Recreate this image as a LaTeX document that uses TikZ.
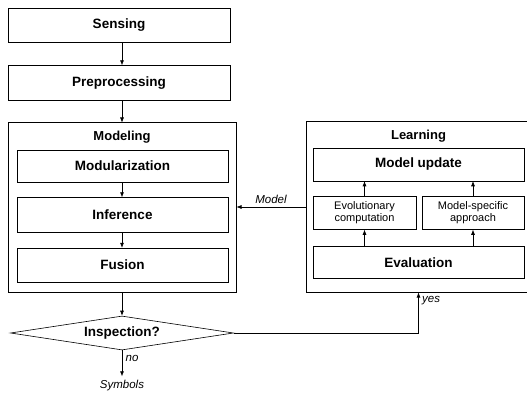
\documentclass[tikz,border=0pt]{standalone}
\usepackage{fontspec}
\setmainfont{Liberation Sans}
\usetikzlibrary{arrows.meta, positioning, shapes.geometric}
\tikzset{
  every picture/.style={line width=0.6pt},
  >={Latex[length=5pt, width=4pt]},
  block/.style={draw, minimum width=222pt, minimum height=34pt, inner sep=0pt, font=\bfseries\fontsize{13.5}{15}\selectfont},
  inblock/.style={draw, line width=0.5pt, minimum width=211pt, minimum height=33pt, inner sep=0pt, font=\bfseries\fontsize{13.5}{15}\selectfont},
  halfblock/.style={inblock, minimum width=103pt, align=center, font=\fontsize{11}{12}\selectfont},
  group/.style={draw, line width=1pt, inner sep=0pt},
  head/.style={font=\bfseries\fontsize{13}{14}\selectfont},
  decide/.style={draw, diamond, aspect=6.5, minimum width=223pt, minimum height=34pt, inner sep=0pt, font=\bfseries\fontsize{13.5}{15}\selectfont},
  lbl/.style={font=\itshape\fontsize{11.5}{13}\selectfont}
}
\begin{document}
\begin{tikzpicture}[x=1pt, y=-1pt]
    \useasboundingbox (0,0) rectangle (527,393);
    \clip (0,0) rectangle (527,393);

    \node [block] (sense) at (119,25) {Sensing};
    \node [block, below=23pt of sense, minimum height=35pt] (prep) {Preprocessing};

    % modeling part
    \node [group, minimum width=228pt, minimum height=169pt] (mod) at (122,207.5) {};
    \node [head] (modlbl) at (122,137) {Modeling};
    \node [inblock, minimum height=32pt] (modul) at (122.5,166) {Modularization};
    \node [inblock, below=15pt of modul, minimum height=35pt] (infer) {Inference};
    \node [inblock, below=15pt of infer, minimum height=34pt] (fuse) {Fusion};

    \node [decide] (insp) at (122,333) {Inspection?};
    \node [lbl, below=26pt of insp] (sym) {Symbols};

    % learning part
    \node [group, minimum width=225pt, minimum height=170pt] (learn) at (418.5,207) {};
    \node [head] (learnlbl) at (418.5,136) {Learning};
    \node [inblock] (upd) at (418.5,164.5) {Model update};
    \node [halfblock, below right=15pt and 0pt of upd.south west] (evo) {Evolutionary\\computation};
    \node [halfblock, below left=15pt and 0pt of upd.south east, minimum width=102pt] (spec) {Model-specific\\approach};
    \node [inblock, below=65pt of upd, minimum height=32pt] (eval) {Evaluation};

    \draw [->] (sense.south -| mod) -- (prep.north -| mod);
    \draw [->] (prep.south -| mod) -- (mod.north);
    \draw [->] (modul.south -| mod) -- (infer.north -| mod);
    \draw [->] (infer.south -| mod) -- (fuse.north -| mod);
    \draw [->] (mod.south) -- (insp.north);
    \draw [->] (insp.south) -- (sym.north) node [lbl, right, pos=0.3] {no};

    \draw [->] (eval.north -| evo) -- (evo.south);
    \draw [->] (eval.north -| spec) -- (spec.south);
    \draw [->] (evo.north) -- (evo.north |- upd.south);
    \draw [->] (spec.north) -- (spec.north |- upd.south);

    \draw [->] (learn.west) -- (learn.west -| mod.east) node [lbl, midway, above] {Model};
    \draw [->] (insp.east) -| (learn.south) node [lbl, right, pos=0.9] {yes};
\end{tikzpicture}
\end{document}
